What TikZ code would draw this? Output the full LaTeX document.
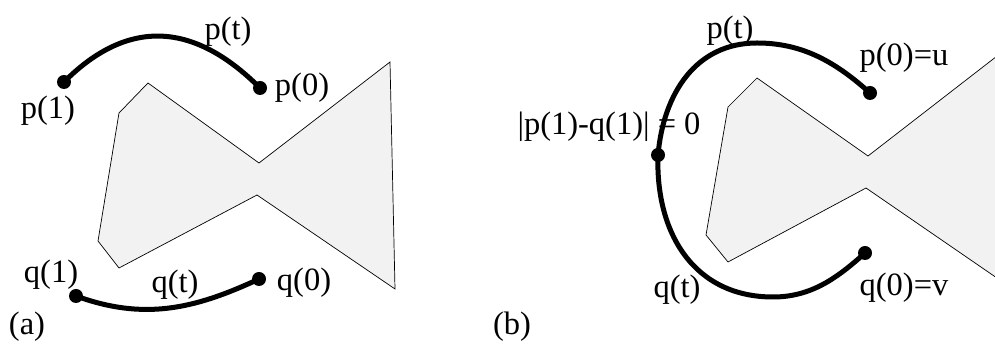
\documentclass[tikz,border=0pt]{standalone}
\usepackage{fontspec}
\setmainfont{Liberation Serif}
\definecolor{polyfill}{RGB}{242,242,242}
\tikzset{
  poly/.style={draw=black, line width=0.7pt, fill=polyfill, line join=miter},
  curve/.style={draw=black, line width=5pt, line cap=round},
  dot/.style={circle, fill=black, inner sep=0pt, minimum size=14pt},
  lab/.style={inner sep=0pt, anchor=center, font=\fontsize{32.5}{38}\selectfont}
}
\begin{document}
\begin{tikzpicture}[x=1pt,y=1pt]
\useasboundingbox (0,0) rectangle (995,344);
\clip (0,0) rectangle (995,344);
% polygons
\draw[poly] (148,261) -- (119,231) -- (98,103) -- (119,76) -- (257,149) -- (395,55) -- (390,282) -- (259,181) -- cycle;
\draw[poly] (757,266) -- (728,237) -- (706,109) -- (728,82) -- (866,156) -- (1010,57) -- (1010,298) -- (868,188) -- cycle;
% labels (a)
\node[lab] (lpta) at (228,312) {p(t)};
\node[lab] (lp1) at (48,233) {p(1)};
\node[lab] (lp0) at (302,256) {p(0)};
\node[lab] (lq1) at (51,69) {q(1)};
\node[lab] (lqta) at (175,59) {q(t)};
\node[lab] (lq0) at (304,61) {q(0)};
\node[lab] (la) at (27,17) {(a)};
% labels (b)
\node[lab] (lptb) at (730,313) {p(t)};
\node[lab] (lpu) at (904,286) {p(0)=u};
\node[lab] (lj) at (609,217) {|p(1)-q(1)| = 0};
\node[lab] (lqtb) at (677,54) {q(t)};
\node[lab] (lqv) at (904,56) {q(0)=v};
\node[lab] (lb) at (512,17) {(b)};
% dots
\node[dot] (p1) at (64,262) {};
\node[dot] (p0) at (260,256) {};
\node[dot] (q1) at (76,48) {};
\node[dot] (q0) at (259,65) {};
\node[dot] (pu) at (870,251) {};
\node[dot] (J) at (658,189) {};
\node[dot] (qv) at (865,91) {};
\coordinate (top) at (757,301);
\coordinate (bot) at (773,47);
% curves
\draw[curve] (p1.center) to[out=45,in=135,looseness=1.2] (p0.center);
\draw[curve] (q1.center) to[out=-20,in=-155] (q0.center);
\draw[curve] (pu.center) to[out=138,in=0,looseness=0.95] (top) to[out=180,in=85,looseness=1.05] (J.center);
\draw[curve] (J.center) to[out=-92,in=180,looseness=1.1] (bot) to[out=0,in=-138,looseness=0.95] (qv.center);
\end{tikzpicture}
\end{document}
